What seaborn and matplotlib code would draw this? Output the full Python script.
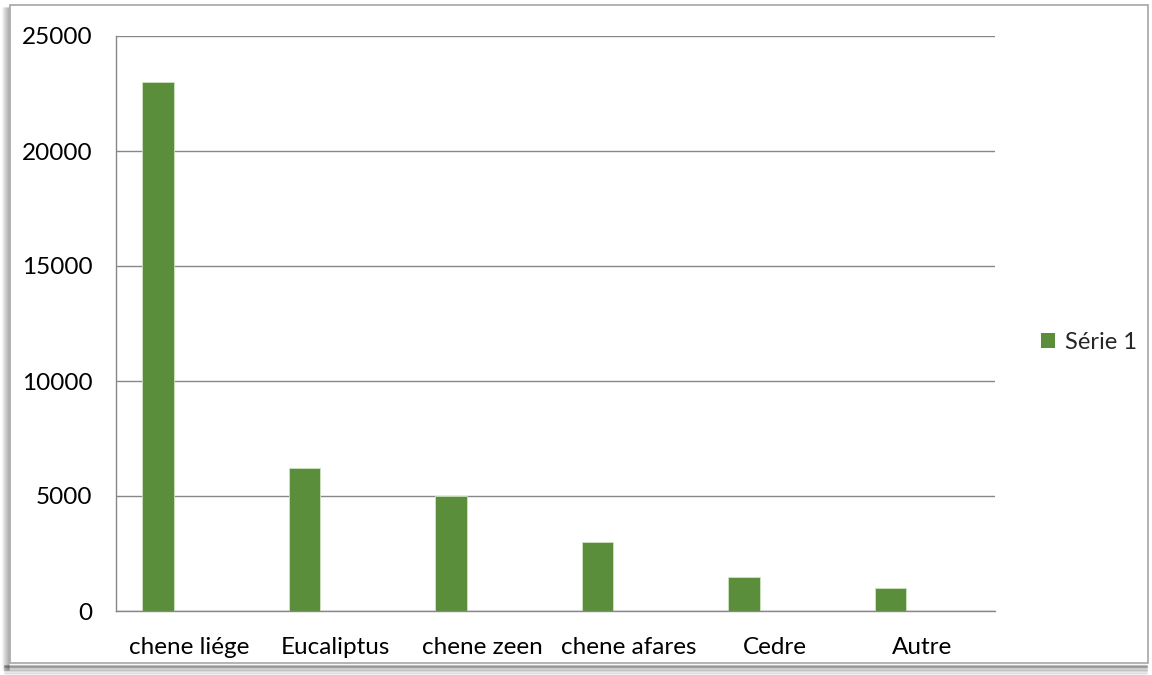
import matplotlib
matplotlib.use("Agg")
import matplotlib.pyplot as plt
from matplotlib.patches import Rectangle, Patch
from matplotlib.lines import Line2D
import seaborn as sns
import pandas as pd

# Tree species and their counts
especes = ["chene liége", "Eucaliptus", "chene zeen", "chene afares", "Cedre", "Autre"]
valeurs = [23000, 6200, 5000, 3000, 1500, 1000]
series = ["Série 1", "Série 2", "Série 3"]
y_ticks = [0, 5000, 10000, 15000, 20000, 25000]

GREEN = "#5B8E3A"
GRID = "#878787"

sns.set_theme(style="white")
plt.rcParams["font.family"] = ["Lato", "DejaVu Sans"]
FS = 17.5

df = pd.DataFrame({"espece": especes, "valeur": valeurs, "serie": series[0]})

W, H = 1152, 675
fig = plt.figure(figsize=(W / 100, H / 100), dpi=100)
fig.patch.set_facecolor("white")

# outer chart frame with a soft shadow on the left and bottom
def fx(px):
    return px / W

def fy(py):
    return 1 - py / H

for i, a in enumerate([0.06, 0.10, 0.14, 0.18, 0.22, 0.26, 0.30]):
    fig.add_artist(Line2D([fx(3 + i), fx(3 + i)], [fy(8), fy(670)], color="black",
                          alpha=a * 0.7, lw=1.2, transform=fig.transFigure, zorder=-3))
    fig.add_artist(Line2D([fx(5), fx(1147)], [fy(674 - i * 1.4), fy(674 - i * 1.4)],
                          color="black", alpha=a * 0.8, lw=1.6, transform=fig.transFigure,
                          zorder=-3))
fig.add_artist(Rectangle((fx(10), fy(663)), fx(1138) - fx(0), fy(5) - fy(663),
                         transform=fig.transFigure, facecolor="white",
                         edgecolor="#A6A6A6", lw=1.2, zorder=-2))

ax = fig.add_axes([fx(116), fy(611), fx(995) - fx(116), fy(36) - fy(611)])
ax.set_facecolor("none")

sns.barplot(data=df, x="espece", y="valeur", hue="serie", hue_order=series,
            order=especes, palette=[GREEN, GREEN, GREEN], width=0.64,
            dodge=True, saturation=1, edgecolor="#CFE3C0", linewidth=0.6,
            legend=False, ax=ax)

ax.set_xlim(-0.5, len(especes) - 0.5)
ax.set_ylim(0, 25000)
ax.set_yticks(y_ticks)
ax.set_yticklabels([str(v) for v in y_ticks], fontsize=FS, color="black")
ax.yaxis.grid(True, color=GRID, lw=1)
ax.set_axisbelow(True)
ax.tick_params(axis="y", length=8, width=1, color=GRID, pad=9)

ax.set_xticks(range(len(especes)))
ax.set_xticklabels(especes, fontsize=FS, color="black")
ax.set_xticks([i - 0.5 for i in range(len(especes) + 1)], minor=True)
ax.tick_params(axis="x", which="major", length=0, pad=19)
ax.tick_params(axis="x", which="minor", length=7, width=1, color=GRID)
ax.set_xlabel("")
ax.set_ylabel("")

for side in ["top", "right"]:
    ax.spines[side].set_visible(False)
for side in ["left", "bottom"]:
    ax.spines[side].set_color(GRID)
    ax.spines[side].set_linewidth(1)

fig.legend(handles=[Patch(facecolor=GREEN, edgecolor="none", label=series[0])],
           loc="center left", bbox_to_anchor=(fx(1020), fy(342)), frameon=False,
           fontsize=17, handlelength=0.6, handleheight=0.6, handletextpad=0.4)

fig.savefig("out.png", dpi=100, facecolor="white")
